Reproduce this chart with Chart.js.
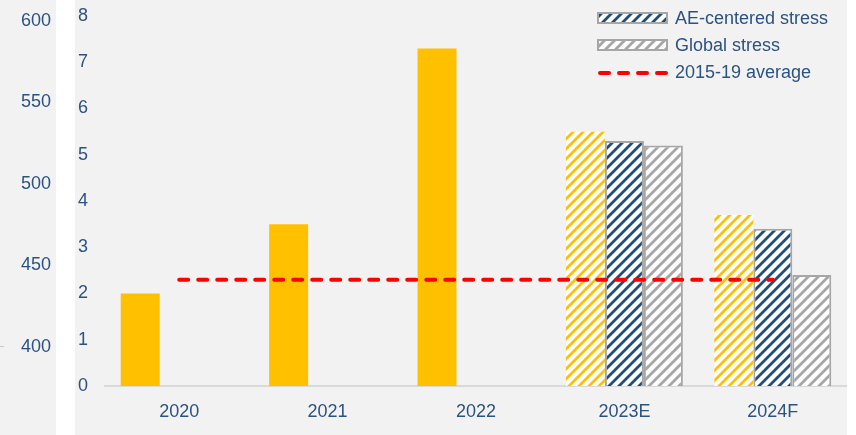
<!DOCTYPE html>
<html lang="en">
<head>
  <meta charset="UTF-8">
  <title>Stress scenarios</title>
  <style>
    body {
      margin: 0;
      background: #ffffff;
      font-family: Arial, "Liberation Sans", sans-serif;
    }
    .panel {
      position: absolute;
      top: 0;
      height: 435px;
      background: #f2f2f2;
    }
    #leftPanel { left: 0; width: 56px; }
    #mainPanel { left: 75px; width: 772px; }
    .stub {
      position: absolute;
      left: 0;
      top: 346px;
      width: 4px;
      height: 1px;
      background: #c8c8c8;
    }
  </style>
</head>
<body>
  <div class="panel" id="leftPanel"><canvas id="leftChart"></canvas><div class="stub"></div></div>
  <div class="panel" id="mainPanel"><canvas id="mainChart"></canvas></div>

  <script src="https://cdn.jsdelivr.net/npm/chart.js"></script>
  <script>
    // data
    const categories = ['2020', '2021', '2022', '2023E', '2024F'];
    const baseline = [2.0, 3.5, 7.3, 5.5, 3.7];
    const aeStress = [null, null, null, 5.3, 3.4];
    const globalStress = [null, null, null, 5.2, 2.4];
    const avg1519 = [2.3, 2.3, 2.3, 2.3, 2.3];
    const leftTicks = [400, 450, 500, 550, 600];

    const textColor = '#2b5281';
    const yellow = '#ffc000';
    const navy = '#1f4e79';
    const grey = '#a6a6a6';

    // diagonal hatch pattern
    function hatch(color) {
      const size = 10;
      const c = document.createElement('canvas');
      c.width = size; c.height = size;
      const g = c.getContext('2d');
      g.fillStyle = '#ffffff';
      g.fillRect(0, 0, size, size);
      g.strokeStyle = color;
      g.lineWidth = 2.8;
      g.beginPath();
      g.moveTo(-size, size * 2); g.lineTo(size * 2, -size);
      g.moveTo(-size, size); g.lineTo(size, -size);
      g.moveTo(0, size * 2); g.lineTo(size * 2, 0);
      g.stroke();
      return g.createPattern(c, 'repeat');
    }
    const yellowHatch = hatch(yellow);
    const navyHatch = hatch(navy);
    const greyHatch = hatch(grey);

    // legend drawn by hand so the dashed line gets its own swatch
    const legendItems = [
      { text: 'AE-centered stress', fill: navyHatch, border: grey },
      { text: 'Global stress', fill: greyHatch, border: grey },
      { text: '2015-19 average', dash: true }
    ];
    const customLegend = {
      id: 'customLegend',
      afterDraw(chart) {
        const ctx = chart.ctx;
        ctx.save();
        ctx.font = '18px Arial, "Liberation Sans", sans-serif';
        ctx.textBaseline = 'middle';
        legendItems.forEach((item, i) => {
          const x = 523, y = 18 + i * 27;
          if (item.dash) {
            ctx.strokeStyle = '#ff0000';
            ctx.lineWidth = 4;
            ctx.lineCap = 'round';
            ctx.setLineDash([9, 10]);
            ctx.beginPath();
            ctx.moveTo(x + 2, y + 1);
            ctx.lineTo(x + 69, y + 1);
            ctx.stroke();
            ctx.setLineDash([]);
          } else {
            ctx.fillStyle = item.fill;
            ctx.fillRect(x, y - 5, 69, 10);
            ctx.strokeStyle = item.border;
            ctx.lineWidth = 2;
            ctx.strokeRect(x, y - 5, 69, 10);
          }
          ctx.fillStyle = textColor;
          ctx.fillText(item.text, 600, y + 1);
        });
        ctx.restore();
      }
    };

    new Chart(document.getElementById('mainChart'), {
      type: 'bar',
      data: {
        labels: categories,
        datasets: [
          {
            type: 'line',
            label: '2015-19 average',
            data: avg1519,
            borderColor: '#ff0000',
            borderWidth: 4,
            borderDash: [9, 10],
            borderCapStyle: 'round',
            pointRadius: 0,
            fill: false,
            order: 0
          },
          {
            label: 'Baseline',
            data: baseline,
            backgroundColor: [yellow, yellow, yellow, yellowHatch, yellowHatch],
            borderWidth: 0,
            order: 1
          },
          {
            label: 'AE-centered stress',
            data: aeStress,
            backgroundColor: navyHatch,
            borderColor: grey,
            borderWidth: 2,
            order: 1
          },
          {
            label: 'Global stress',
            data: globalStress,
            backgroundColor: greyHatch,
            borderColor: grey,
            borderWidth: 2,
            order: 1
          }
        ]
      },
      options: {
        responsive: true,
        maintainAspectRatio: false,
        animation: false,
        categoryPercentage: 0.788,
        barPercentage: 1,
        layout: { padding: { top: 16, right: 0, left: 3, bottom: 0 } },
        plugins: {
          legend: { display: false },
          tooltip: { enabled: false }
        },
        scales: {
          x: {
            grid: { display: false, drawTicks: false },
            border: { color: '#d9d9d9', width: 2 },
            ticks: {
              color: textColor,
              font: { size: 18, family: 'Arial' },
              padding: 15
            },
            afterFit(scale) { scale.height = 49; }
          },
          y: {
            min: 0,
            max: 8,
            grid: { display: false, drawTicks: false },
            border: { display: false },
            ticks: {
              stepSize: 1,
              color: textColor,
              font: { size: 18, family: 'Arial' },
              padding: 0,
              crossAlign: 'far'
            },
            afterFit(scale) { scale.width = 27; }
          }
        }
      },
      plugins: [customLegend]
    });

    // fragment of the neighbouring panel on the left
    new Chart(document.getElementById('leftChart'), {
      type: 'bar',
      data: { labels: [''], datasets: [] },
      options: {
        responsive: true,
        maintainAspectRatio: false,
        animation: false,
        layout: { padding: { top: 21, bottom: 88, left: 0, right: 0 } },
        plugins: { legend: { display: false }, tooltip: { enabled: false } },
        scales: {
          x: { display: false },
          y: {
            min: leftTicks[0],
            max: leftTicks[leftTicks.length - 1],
            grid: { display: false, drawTicks: false },
            border: { display: false },
            ticks: {
              stepSize: 50,
              color: textColor,
              font: { size: 18, family: 'Arial' },
              padding: 3
            },
            afterFit(scale) { scale.width = 54; }
          }
        }
      }
    });
  </script>
</body>
</html>
